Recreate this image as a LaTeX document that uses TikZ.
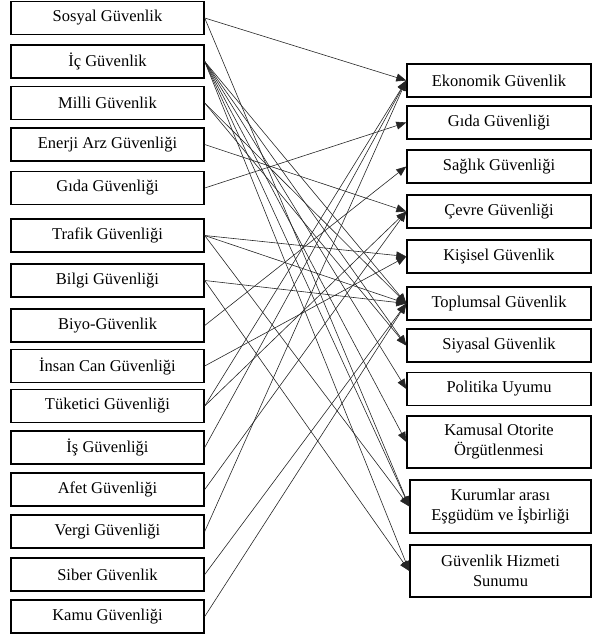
\documentclass[tikz,border=0pt]{standalone}
\usepackage{fontspec}
\setmainfont{Liberation Serif}
\usetikzlibrary{arrows.meta}

\tikzset{
  kutu/.style={draw=black, line width=1.4pt, fill=white, inner sep=0pt, align=center,
    font=\fontsize{16.5}{20}\selectfont},
  solkutu/.style={kutu, minimum width=193pt, minimum height=33pt},
  sagkutu/.style={kutu, minimum width=184pt, minimum height=33pt},
  bag/.style={draw=black!85, line width=0.6pt, -{Triangle[length=10pt,width=8pt]}}
}

\begin{document}
\begin{tikzpicture}[x=1pt, y=-1pt]
\useasboundingbox (0,0) rectangle (593,636);
% sol sutun
\node[solkutu] (sosyal)   at (107.5,18)    {Sosyal Güvenlik};
\node[solkutu] (ic)       at (107.5,61.5)  {İç Güvenlik};
\node[solkutu] (milli)    at (107.5,103)   {Milli Güvenlik};
\node[solkutu] (enerji)   at (107.5,144.5) {Enerji Arz Güvenliği};
\node[solkutu] (gidaL)    at (107.5,188)   {Gıda Güvenliği};
\node[solkutu] (trafik)   at (107.5,235.5) {Trafik Güvenliği};
\node[solkutu] (bilgi)    at (107.5,280.5) {Bilgi Güvenliği};
\node[solkutu] (biyo)     at (107.5,325.5) {Biyo-Güvenlik};
\node[solkutu] (insan)    at (107.5,366)   {İnsan Can Güvenliği};
\node[solkutu] (tuketici) at (107.5,406)   {Tüketici Güvenliği};
\node[solkutu] (is)       at (107.5,447.5) {İş Güvenliği};
\node[solkutu] (afet)     at (107.5,489.5) {Afet Güvenliği};
\node[solkutu] (vergi)    at (107.5,531.5) {Vergi Güvenliği};
\node[solkutu] (siber)    at (107.5,574.5) {Siber Güvenlik};
\node[solkutu] (kamu)     at (107.5,616.5) {Kamu Güvenliği};
% sag sutun
\node[sagkutu] (ekonomik)  at (499,80.5)  {Ekonomik Güvenlik};
\node[sagkutu] (gidaR)     at (499,122.5) {Gıda Güvenliği};
\node[sagkutu] (saglik)    at (499,166.5) {Sağlık Güvenliği};
\node[sagkutu] (cevre)     at (499,211.5) {Çevre Güvenliği};
\node[sagkutu] (kisisel)   at (499,256.5) {Kişisel Güvenlik};
\node[sagkutu] (toplumsal) at (499,303.5) {Toplumsal Güvenlik};
\node[sagkutu] (siyasal)   at (499,345.5) {Siyasal Güvenlik};
\node[sagkutu] (politika)  at (499,389)   {Politika Uyumu};
\node[sagkutu, minimum height=52pt] (kamusal)  at (499,442)   {Kamusal Otorite\\Örgütlenmesi};
\node[sagkutu, minimum height=53pt, minimum width=181pt] (kurumlar) at (500.5,506.5) {Kurumlar arası\\Eşgüdüm ve İşbirliği};
\node[sagkutu, minimum height=52pt, minimum width=181pt] (hizmet)   at (500.5,571)   {Güvenlik Hizmeti\\Sunumu};
% baglantilar
\foreach \a/\b in {sosyal/ekonomik, sosyal/kurumlar,
    ic/toplumsal, ic/siyasal, ic/politika, ic/kamusal, ic/kurumlar, ic/hizmet,
    milli/toplumsal, milli/siyasal,
    enerji/cevre, gidaL/gidaR,
    trafik/kisisel, trafik/toplumsal, trafik/kurumlar,
    bilgi/toplumsal, bilgi/hizmet,
    biyo/saglik, insan/kisisel,
    tuketici/ekonomik, tuketici/cevre,
    is/ekonomik, afet/cevre, vergi/ekonomik,
    siber/toplumsal, kamu/toplumsal}
  \draw[bag] (\a.east) -- (\b.west);
\end{tikzpicture}
\end{document}
